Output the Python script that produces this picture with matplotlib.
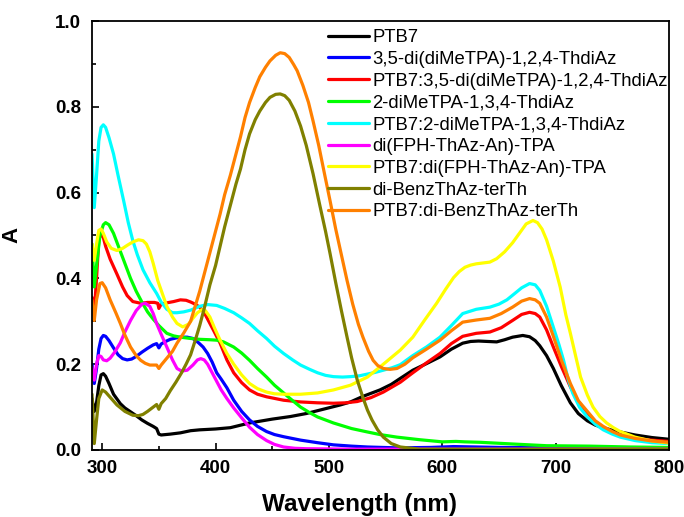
import matplotlib
matplotlib.use("Agg")
import matplotlib.pyplot as plt
from matplotlib.ticker import MultipleLocator

plt.rcParams['font.family'] = ['Liberation Sans', 'DejaVu Sans']

# ---------------- data ----------------
labels = ["PTB7", "3,5-di(diMeTPA)-1,2,4-ThdiAz", "PTB7:3,5-di(diMeTPA)-1,2,4-ThdiAz",
          "2-diMeTPA-1,3,4-ThdiAz", "PTB7:2-diMeTPA-1,3,4-ThdiAz", "di(FPH-ThAz-An)-TPA",
          "PTB7:di(FPH-ThAz-An)-TPA", "di-BenzThAz-terTh", "PTB7:di-BenzThAz-terTh"]
colors = ["#000000", "#0000FF", "#FF0000", "#00FF00", "#00FFFF", "#FF00FF",
          "#FFFF00", "#808000", "#FF8000"]

ptb7_wl = [291, 293, 295, 297, 299, 301, 303, 306, 310, 316, 320, 325, 330, 335, 340, 345, 348,
           350, 352, 360, 369, 378, 386, 400, 413, 430, 450, 466, 480, 495, 510, 519, 530, 545,
           555, 563, 574, 585, 598, 608, 618, 625, 632, 640, 648, 655, 662, 671, 677, 682, 686,
           692, 698, 705, 713, 720, 728, 735, 742, 750, 757, 770, 785, 800]
ptb7_A = [0.12, 0.09, 0.11, 0.15, 0.175, 0.178, 0.172, 0.155, 0.13, 0.108, 0.098, 0.089, 0.08,
          0.07, 0.062, 0.055, 0.05, 0.037, 0.035, 0.037, 0.04, 0.045, 0.047, 0.049, 0.052, 0.063,
          0.072, 0.078, 0.085, 0.095, 0.105, 0.112, 0.125, 0.14, 0.153, 0.167, 0.186, 0.2, 0.217,
          0.235, 0.249, 0.253, 0.254, 0.253, 0.252, 0.257, 0.263, 0.267, 0.264, 0.255, 0.243,
          0.22, 0.19, 0.15, 0.11, 0.085, 0.068, 0.058, 0.052, 0.046, 0.042, 0.035, 0.029, 0.025]

dtpa_wl = [291, 293, 295, 297, 299, 301, 303, 306, 310, 314, 318, 322, 326, 330, 335, 340, 345,
           348, 350, 352, 356, 360, 365, 369, 375, 380, 385, 389, 393, 397, 401, 405, 410, 416,
           423, 430, 437, 445, 452, 460, 475, 490, 504, 520, 534, 560, 590, 610, 630, 650, 700,
           800]
dtpa_A = [0.20, 0.155, 0.19, 0.235, 0.26, 0.267, 0.265, 0.255, 0.238, 0.222, 0.213, 0.21, 0.212,
          0.218, 0.228, 0.237, 0.245, 0.248, 0.238, 0.247, 0.253, 0.258, 0.261, 0.263, 0.263,
          0.26, 0.25, 0.24, 0.225, 0.205, 0.18, 0.165, 0.145, 0.116, 0.09, 0.07, 0.055, 0.043,
          0.036, 0.031, 0.023, 0.017, 0.012, 0.009, 0.007, 0.005, 0.006, 0.008, 0.007, 0.006,
          0.005, 0.004]

p_dtpa_wl = [291, 293, 295, 297, 299, 301, 303, 307, 313, 318, 322, 327, 334, 340, 346, 349, 350,
             352, 357, 363, 369, 374, 378, 382, 386, 390, 394, 398, 404, 410, 416, 423, 430, 437,
             445, 460, 475, 490, 504, 515, 525, 537, 548, 563, 574, 586, 598, 608, 618, 630, 642,
             652, 662, 670, 677, 682, 686, 692, 698, 705, 713, 720, 728, 735, 742, 757, 780, 800]
p_dtpa_A = [0.356, 0.32, 0.40, 0.49, 0.505, 0.495, 0.475, 0.445, 0.41, 0.38, 0.36, 0.346, 0.342,
            0.344, 0.344, 0.342, 0.33, 0.34, 0.343, 0.346, 0.35, 0.349, 0.345, 0.34, 0.333, 0.32,
            0.30, 0.28, 0.249, 0.21, 0.18, 0.157, 0.14, 0.13, 0.124, 0.116, 0.112, 0.11, 0.109,
            0.11, 0.113, 0.122, 0.135, 0.158, 0.18, 0.203, 0.225, 0.248, 0.265, 0.272, 0.275,
            0.285, 0.302, 0.316, 0.321, 0.318, 0.31, 0.28, 0.24, 0.195, 0.147, 0.113, 0.086,
            0.066, 0.05, 0.032, 0.024, 0.02]

mtpa_wl = [291, 293, 295, 298, 301, 303, 306, 310, 315, 320, 325, 330, 335, 340, 345, 350, 357,
           363, 369, 378, 386, 395, 401, 407, 416, 423, 430, 437, 445, 452, 460, 468, 475, 483,
           490, 504, 520, 534, 545, 560, 580, 600, 612, 620, 633, 662, 692, 730, 766, 800]
mtpa_A = [0.48, 0.38, 0.43, 0.50, 0.525, 0.53, 0.525, 0.505, 0.47, 0.435, 0.40, 0.37, 0.345,
          0.322, 0.305, 0.29, 0.272, 0.266, 0.263, 0.26, 0.258, 0.257, 0.256, 0.252, 0.24, 0.226,
          0.209, 0.19, 0.17, 0.151, 0.133, 0.115, 0.10, 0.087, 0.077, 0.063, 0.05, 0.042, 0.036,
          0.03, 0.024, 0.019, 0.02, 0.019, 0.018, 0.014, 0.01, 0.009, 0.007, 0.006]

p_mtpa_wl = [291, 293, 295, 297, 299, 301, 303, 306, 310, 314, 319, 323, 327, 331, 336, 342, 348,
             352, 357, 362, 366, 372, 378, 386, 393, 401, 408, 416, 423, 430, 437, 445, 452, 460,
             468, 475, 483, 490, 497, 504, 512, 519, 527, 534, 541, 548, 556, 563, 574, 586, 598,
             608, 618, 630, 642, 650, 657, 664, 670, 677, 682, 686, 692, 698, 703, 707, 711, 715,
             721, 728, 735, 742, 750, 757, 770, 785, 800]
p_mtpa_A = [0.69, 0.565, 0.64, 0.72, 0.752, 0.758, 0.752, 0.728, 0.69, 0.64, 0.58, 0.53, 0.488,
            0.455, 0.42, 0.39, 0.365, 0.345, 0.328, 0.32, 0.32, 0.322, 0.326, 0.335, 0.339, 0.337,
            0.33, 0.32, 0.308, 0.295, 0.278, 0.26, 0.242, 0.225, 0.21, 0.198, 0.188, 0.18, 0.174,
            0.171, 0.17, 0.171, 0.173, 0.177, 0.181, 0.186, 0.192, 0.199, 0.22, 0.24, 0.263,
            0.29, 0.318, 0.328, 0.333, 0.34, 0.35, 0.365, 0.378, 0.388, 0.385, 0.372, 0.335,
            0.286, 0.245, 0.209, 0.165, 0.133, 0.10, 0.077, 0.06, 0.047, 0.037, 0.03, 0.022,
            0.017, 0.015]

fph_wl = [291, 293, 295, 297, 299, 301, 304, 307, 311, 316, 320, 325, 330, 335, 338, 342, 345,
          348, 352, 357, 362, 366, 370, 375, 380, 384, 387, 390, 393, 397, 401, 405, 410, 416,
          423, 430, 437, 445, 452, 460, 470, 480, 520, 800]
fph_A = [0.193, 0.163, 0.20, 0.22, 0.218, 0.21, 0.208, 0.214, 0.228, 0.25, 0.275, 0.302, 0.325,
         0.34, 0.342, 0.335, 0.318, 0.295, 0.27, 0.24, 0.21, 0.19, 0.184, 0.186, 0.198, 0.21,
         0.213, 0.21, 0.20, 0.18, 0.16, 0.14, 0.12, 0.098, 0.075, 0.053, 0.036, 0.022, 0.013,
         0.007, 0.004, 0.003, 0.002, 0.002]

p_fph_wl = [291, 293, 295, 297, 299, 301, 304, 308, 313, 318, 322, 327, 332, 336, 339, 342, 345,
            349, 353, 357, 362, 366, 371, 376, 380, 384, 388, 391, 395, 399, 404, 410, 416, 423,
            430, 437, 445, 452, 460, 475, 490, 504, 519, 534, 548, 563, 574, 585, 595, 603, 610,
            615, 620, 625, 630, 636, 642, 648, 655, 662, 668, 674, 680, 684, 688, 692, 698, 704,
            709, 713, 718, 722, 728, 733, 739, 745, 751, 757, 770, 785, 800]
p_fph_A = [0.48, 0.442, 0.48, 0.512, 0.515, 0.505, 0.485, 0.47, 0.465, 0.47, 0.477, 0.485, 0.49,
           0.488, 0.48, 0.462, 0.435, 0.395, 0.365, 0.335, 0.31, 0.295, 0.287, 0.293, 0.307,
           0.32, 0.327, 0.325, 0.31, 0.285, 0.256, 0.225, 0.20, 0.175, 0.155, 0.143, 0.135,
           0.131, 0.13, 0.13, 0.133, 0.14, 0.151, 0.17, 0.20, 0.233, 0.263, 0.305, 0.342, 0.375,
           0.402, 0.416, 0.426, 0.431, 0.434, 0.436, 0.438, 0.446, 0.462, 0.483, 0.505, 0.527,
           0.535, 0.53, 0.515, 0.49, 0.44, 0.38, 0.315, 0.272, 0.215, 0.17, 0.128, 0.10, 0.078,
           0.063, 0.052, 0.043, 0.03, 0.021, 0.016]

benz_wl = [291, 293, 295, 297, 300, 303, 308, 313, 320, 327, 332, 336, 340, 345, 348, 350, 352,
           356, 360, 365, 370, 374, 378, 382, 386, 390, 395, 400, 404, 408, 413, 418, 422, 426,
           430, 435, 439, 444, 448, 453, 457, 461, 465, 470, 475, 480, 486, 492, 497, 501, 506,
           511, 516, 520, 525, 530, 534, 538, 543, 548, 555, 563, 580, 800]
benz_A = [0.13, 0.015, 0.07, 0.12, 0.14, 0.135, 0.12, 0.105, 0.09, 0.081, 0.08, 0.083, 0.09,
          0.10, 0.106, 0.095, 0.108, 0.12, 0.138, 0.158, 0.18, 0.20, 0.222, 0.255, 0.29, 0.33,
          0.385, 0.43, 0.475, 0.52, 0.57, 0.62, 0.655, 0.70, 0.737, 0.77, 0.79, 0.81, 0.822,
          0.829, 0.83, 0.826, 0.815, 0.79, 0.755, 0.71, 0.644, 0.57, 0.51, 0.458, 0.39, 0.325,
          0.263, 0.215, 0.163, 0.122, 0.093, 0.07, 0.047, 0.03, 0.015, 0.007, 0.002, 0.002]

p_benz_wl = [291, 293, 295, 298, 300, 303, 307, 312, 316, 320, 325, 330, 334, 338, 342, 348, 350,
             352, 357, 362, 366, 372, 378, 382, 386, 390, 395, 400, 404, 408, 413, 418, 422, 426,
             430, 435, 439, 444, 448, 453, 457, 461, 465, 469, 472, 477, 482, 486, 491, 496, 501,
             506, 511, 516, 521, 526, 530, 535, 539, 543, 548, 554, 560, 567, 574, 586, 598, 608,
             618, 630, 642, 652, 662, 670, 677, 682, 686, 692, 698, 705, 713, 720, 728, 735, 742,
             750, 757, 770, 785, 800]
p_benz_A = [0.349, 0.302, 0.35, 0.388, 0.39, 0.378, 0.35, 0.32, 0.295, 0.268, 0.24, 0.22, 0.209,
            0.202, 0.198, 0.198, 0.19, 0.198, 0.214, 0.23, 0.249, 0.273, 0.30, 0.335, 0.37, 0.41,
            0.46, 0.51, 0.55, 0.595, 0.64, 0.69, 0.73, 0.775, 0.81, 0.845, 0.87, 0.892, 0.907,
            0.92, 0.926, 0.924, 0.915, 0.898, 0.884, 0.85, 0.81, 0.767, 0.71, 0.645, 0.581,
            0.515, 0.455, 0.395, 0.34, 0.293, 0.263, 0.23, 0.209, 0.197, 0.19, 0.188, 0.19, 0.20,
            0.215, 0.235, 0.256, 0.278, 0.298, 0.303, 0.307, 0.318, 0.333, 0.347, 0.353, 0.35,
            0.342, 0.31, 0.265, 0.21, 0.155, 0.115, 0.09, 0.068, 0.055, 0.043, 0.035, 0.027,
            0.021, 0.018]

series_wl = [ptb7_wl, dtpa_wl, p_dtpa_wl, mtpa_wl, p_mtpa_wl, fph_wl, p_fph_wl, benz_wl, p_benz_wl]
series_A = [ptb7_A, dtpa_A, p_dtpa_A, mtpa_A, p_mtpa_A, fph_A, p_fph_A, benz_A, p_benz_A]

x_ticks = [300, 400, 500, 600, 700, 800]
y_ticks = [0.0, 0.2, 0.4, 0.6, 0.8, 1.0]

# ---------------- plot ----------------
fig = plt.figure(figsize=(6.84, 5.17), dpi=100)
ax = fig.add_axes([92 / 684, 67 / 517, 577 / 684, 429 / 517])

for wl, A, c, lab in zip(series_wl, series_A, colors, labels):
    ax.plot(wl, A, color=c, lw=2.3, label=lab, solid_joinstyle='round', solid_capstyle='round')

ax.set_xlim(291, 800)
ax.set_ylim(0, 1.0)
ax.set_xticks(x_ticks)
ax.set_yticks(y_ticks)
ax.set_xticklabels([str(t) for t in x_ticks])
ax.set_yticklabels([f"{t:.1f}" for t in y_ticks])
ax.xaxis.set_minor_locator(MultipleLocator(50))
ax.yaxis.set_minor_locator(MultipleLocator(0.1))
ax.tick_params(which='both', direction='in', width=1.2)
ax.tick_params(which='major', length=5, labelsize=13.5)
ax.tick_params(which='minor', length=3)
ax.tick_params(axis='x', which='major', pad=7)
ax.tick_params(axis='y', which='major', pad=8)
for lbl in ax.get_xticklabels() + ax.get_yticklabels():
    lbl.set_fontweight('bold')
for sp in ax.spines.values():
    sp.set_linewidth(1.3)

ax.set_xlabel("Wavelength (nm)", fontsize=17.5, fontweight='bold', va='center')
ax.xaxis.set_label_coords((360 - 92) / 577, (450 - 505) / 429)
ax.set_ylabel("A", fontsize=16, fontweight='bold', va='center', ha='center')
ax.yaxis.set_label_coords((12 - 92) / 577, (450 - 235) / 429)

leg = ax.legend(loc='upper left', bbox_to_anchor=(328 / 684, 1 - 29 / 517),
                bbox_transform=fig.transFigure, frameon=False, fontsize=13.3,
                handlelength=2.2, handletextpad=0.2, labelspacing=0.26,
                borderpad=0, borderaxespad=0)

fig.savefig("out.png", dpi=100)
